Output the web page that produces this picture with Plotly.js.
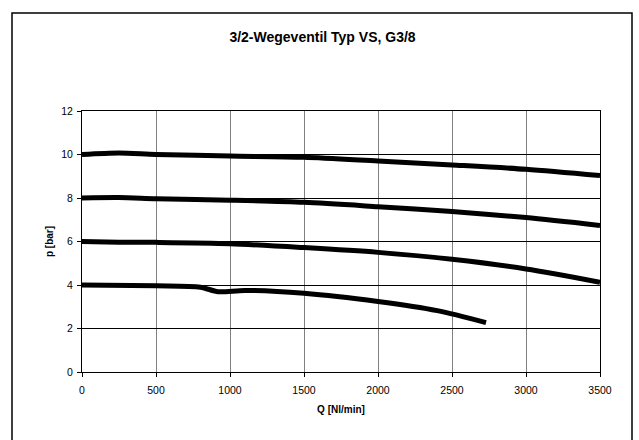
<!DOCTYPE html>
<html>
<head>
<meta charset="utf-8">
<script src="https://cdn.plot.ly/plotly-3.0.1.min.js"></script>
<style>html,body{margin:0;padding:0;background:#fff;}#chart{width:639px;height:440px;}</style>
</head>
<body>
<div id="chart"></div>
<script>
// Data
const q10 = [0, 250, 500, 1000, 1500, 2000, 2500, 3000, 3500];
const p10 = [10.0, 10.07, 10.0, 9.93, 9.87, 9.7, 9.52, 9.32, 9.03];

const q8 = [0, 250, 500, 1000, 1500, 2000, 2500, 3000, 3500];
const p8 = [8.0, 8.02, 7.97, 7.9, 7.8, 7.6, 7.38, 7.1, 6.74];

const q6 = [0, 250, 500, 1000, 1500, 2000, 2500, 3000, 3500];
const p6 = [6.0, 5.97, 5.96, 5.9, 5.72, 5.5, 5.18, 4.74, 4.13];

const q4 = [0, 500, 800, 920, 1100, 1500, 2000, 2400, 2730];
const p4 = [4.0, 3.96, 3.9, 3.69, 3.75, 3.62, 3.24, 2.82, 2.27];

const xTicks = [0, 500, 1000, 1500, 2000, 2500, 3000, 3500];
const yTicks = [0, 2, 4, 6, 8, 10, 12];

const lineStyle = {color: '#000000', width: 5, shape: 'spline', smoothing: 0.8};
const series = [[q10, p10], [q8, p8], [q6, p6], [q4, p4]];
const traces = series.map(s => ({
  x: s[0], y: s[1], mode: 'lines', type: 'scatter',
  line: lineStyle, hoverinfo: 'skip', showlegend: false
}));

// plot area in pixels: x 82..600, y 111..372
const W = 518, H = 261;
const FONT = 'Liberation Sans, Arial, sans-serif';
const layout = {
  width: 639, height: 440,
  margin: {l: 82, r: 39, t: 111, b: 68},
  paper_bgcolor: '#ffffff', plot_bgcolor: '#ffffff',
  font: {family: FONT, color: '#000000', size: 10},
  title: {text: '<b>3/2-Wegeventil Typ VS, G3/8</b>', font: {size: 14, family: FONT},
          x: 322.5 / 639, xanchor: 'center', y: 1 - 37 / 440, yanchor: 'middle'},
  xaxis: {
    range: [0, 3500], tickvals: xTicks, ticktext: xTicks.map(String),
    showgrid: true, gridcolor: '#808080', gridwidth: 1,
    showline: true, linecolor: '#000000', linewidth: 1, mirror: true,
    ticks: 'outside', ticklen: 4, tickcolor: '#000000', zeroline: false,
    tickfont: {size: 10.5}, ticklabelstandoff: 4,
    title: {text: '<b>Q [Nl/min]</b>', font: {size: 10}, standoff: 11}
  },
  yaxis: {
    range: [0, 12], tickvals: yTicks, ticktext: yTicks.map(String),
    showgrid: true, gridcolor: '#000000', gridwidth: 1,
    showline: true, linecolor: '#000000', linewidth: 1, mirror: true,
    ticks: 'outside', ticklen: 4, tickcolor: '#000000', zeroline: false,
    tickfont: {size: 10.5}, ticklabelstandoff: 2,
    title: {text: '<b>p [bar]</b>', font: {size: 10}, standoff: 5}
  },
  shapes: [{
    type: 'rect', xref: 'paper', yref: 'paper', layer: 'below',
    x0: (12 - 82) / W, x1: (632 - 82) / W,
    y0: (372 - 460) / H, y1: (372 - 13) / H,
    line: {color: '#000000', width: 1.5}, fillcolor: 'rgba(0,0,0,0)'
  }]
};
Plotly.newPlot('chart', traces, layout, {staticPlot: true, displayModeBar: false});
</script>
</body>
</html>
